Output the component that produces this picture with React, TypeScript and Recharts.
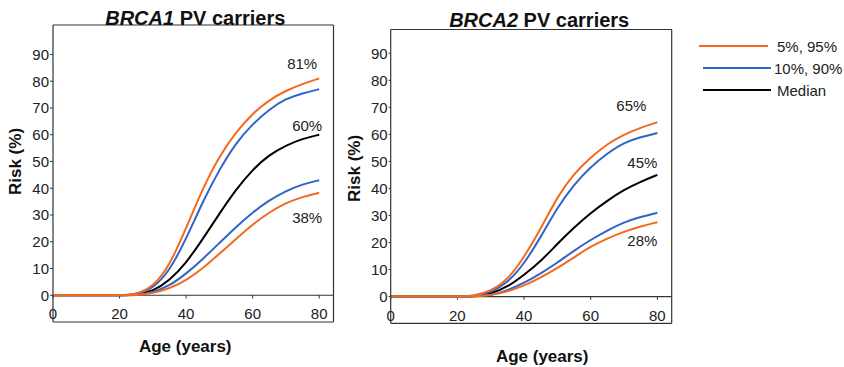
import React from 'react';
import { LineChart, Line, XAxis, YAxis, ReferenceLine, ReferenceDot, Legend } from 'recharts';

const AGES = [0, 5, 10, 15, 20, 25, 30, 35, 40, 45, 50, 55, 60, 65, 70, 75, 80];
const X_TICKS = [0, 20, 40, 60, 80];
const Y_TICKS = [0, 10, 20, 30, 40, 50, 60, 70, 80, 90];

// BRCA1 cumulative risk (%)
const B1_P95 = [0, 0, 0, 0, 0, 0.3, 3, 11, 25, 40, 52, 61, 68, 73, 76.5, 79, 81];
const B1_P90 = [0, 0, 0, 0, 0, 0.2, 2.5, 9, 21, 35, 47, 57, 64, 69.5, 73.5, 75.5, 77];
const B1_MED = [0, 0, 0, 0, 0, 0.1, 1.5, 5.5, 12, 21, 30.5, 39.5, 47, 52.5, 56, 58.5, 60];
const B1_P10 = [0, 0, 0, 0, 0, 0, 1, 3.5, 8, 13.5, 19.5, 25.5, 31, 35.5, 39, 41.5, 43];
const B1_P5 = [0, 0, 0, 0, 0, 0, 0.7, 2.5, 5.5, 10, 15.5, 21, 26.5, 31, 34.5, 36.8, 38.3];

// BRCA2 cumulative risk (%)
const B2_P95 = [0, 0, 0, 0, 0, 0.2, 2, 6, 14.5, 25, 37, 45.5, 51.5, 56.5, 60, 62.5, 64.5];
const B2_P90 = [0, 0, 0, 0, 0, 0.1, 1.5, 5, 12, 22, 33, 41.5, 48, 53, 57, 59, 60.5];
const B2_MED = [0, 0, 0, 0, 0, 0, 1, 3.5, 8, 13, 19.5, 25.5, 31, 35.5, 39.5, 42.5, 45];
const B2_P10 = [0, 0, 0, 0, 0, 0, 0.5, 2.2, 5, 8.5, 12.5, 17, 21, 24.5, 27.5, 29.5, 31];
const B2_P5 = [0, 0, 0, 0, 0, 0, 0.4, 1.8, 4, 7, 10.5, 14.5, 18.5, 21.5, 24, 26, 27.5];

const B1_LABELS = [
  { key: 'p95', text: '81%' },
  { key: 'med', text: '60%' },
  { key: 'p5', text: '38%' },
];
const B2_LABELS = [
  { key: 'p95', text: '65%' },
  { key: 'med', text: '45%' },
  { key: 'p5', text: '28%' },
];

const LEGEND_ITEMS = [
  { name: '5%, 95%', color: '#f26a1f' },
  { name: '10%, 90%', color: '#2f64c8' },
  { name: 'Median', color: '#000000' },
];

const ORANGE = '#f26a1f';
const BLUE = '#2f64c8';
const TEXT = '#222';
const AXIS = '#333';
const FONT = '"Liberation Sans", Arial, sans-serif';

function buildRows(p95: number[], p90: number[], med: number[], p10: number[], p5: number[]) {
  return AGES.map((age, i) => ({ age, p95: p95[i], p90: p90[i], med: med[i], p10: p10[i], p5: p5[i] }));
}

const rows1 = buildRows(B1_P95, B1_P90, B1_MED, B1_P10, B1_P5);
const rows2 = buildRows(B2_P95, B2_P90, B2_MED, B2_P10, B2_P5);

interface PanelProps {
  rows: ReturnType<typeof buildRows>;
  gene: string;
  labels: { key: string; text: string }[];
  labelOffsets: { dx: number; dy: number }[];
  yDomain: [number, number];
  yAxisWidth: number;
  topHeight: number;
  margin: { top: number; right: number; bottom: number; left: number };
  tickSize: number;
  xTickLift: number;
  xLabelDx: number;
  xLabelDy: number;
  yLabelX: number;
  yLabelDy: number;
  titleDx: number;
  titleY: number;
  withLegend?: boolean;
}

function renderLegend() {
  return (
    <svg width={160} height={70} style={{ overflow: 'visible' }}>
      {LEGEND_ITEMS.map((item, i) => (
        <g key={item.name}>
          <line x1={i === 0 ? 4 : 8} x2={i === 0 ? 73 : 76} y1={10 + i * 22} y2={10 + i * 22} stroke={item.color} strokeWidth={2} />
          <text x={i === 1 ? 79 : 82} y={10 + i * 22} dominantBaseline="central" fontSize={15} fill={TEXT} fontFamily={FONT}>
            {item.name}
          </text>
        </g>
      ))}
    </svg>
  );
}

function Panel(p: PanelProps) {
  const last = p.rows[p.rows.length - 1] as Record<string, number>;
  return (
    <LineChart width={340} height={367} data={p.rows} margin={p.margin} style={{ fontFamily: FONT }}>
      <XAxis
        xAxisId="top"
        orientation="top"
        dataKey="age"
        type="number"
        domain={[0, 84.3]}
        height={p.topHeight}
        tick={false}
        tickLine={false}
        axisLine={{ stroke: AXIS, strokeWidth: 1.2 }}
        label={{
          content: ({ viewBox }: any) => (
            <text
              x={viewBox.x + viewBox.width / 2 + p.titleDx}
              y={p.titleY}
              textAnchor="middle"
              dominantBaseline="central"
              fontSize={20}
              fontWeight="bold"
              fill="#111"
              fontFamily={FONT}
            >
              <tspan fontStyle="italic">{p.gene}</tspan> PV carriers
            </text>
          ),
        }}
      />
      <XAxis
        dataKey="age"
        type="number"
        domain={[0, 84.3]}
        ticks={X_TICKS}
        tickSize={0}
        tickMargin={0}
        tickLine={false}
        axisLine={{ stroke: AXIS, strokeWidth: 1.2 }}
        tick={(t: any) => (
          <text x={t.x} y={t.y - p.xTickLift} textAnchor="middle" fontSize={15} fill={TEXT} fontFamily={FONT}>
            {t.payload.value}
          </text>
        )}
        label={{
          content: ({ viewBox }: any) => (
            <text
              x={viewBox.x + viewBox.width / 2 + p.xLabelDx}
              y={viewBox.y + p.xLabelDy}
              textAnchor="middle"
              dominantBaseline="central"
              fontSize={17}
              fontWeight="bold"
              fill="#111"
              fontFamily={FONT}
            >
              Age (years)
            </text>
          ),
        }}
      />
      <YAxis
        type="number"
        domain={p.yDomain}
        ticks={Y_TICKS}
        width={p.yAxisWidth}
        tickSize={p.tickSize}
        tickMargin={1}
        interval={0}
        tick={{ fontSize: 15, fill: TEXT, fontFamily: FONT }}
        tickLine={{ stroke: AXIS }}
        axisLine={{ stroke: AXIS, strokeWidth: 1.2 }}
        label={{
          content: ({ viewBox }: any) => {
            const cy = viewBox.y + viewBox.height / 2 + p.yLabelDy;
            return (
              <text
                x={p.yLabelX}
                y={cy}
                transform={`rotate(-90 ${p.yLabelX} ${cy})`}
                textAnchor="middle"
                dominantBaseline="central"
                fontSize={17}
                fontWeight="bold"
                fill="#111"
                fontFamily={FONT}
              >
                Risk (%)
              </text>
            );
          },
        }}
      />
      <YAxis
        yAxisId="r"
        orientation="right"
        type="number"
        domain={p.yDomain}
        width={1}
        tick={false}
        tickLine={false}
        axisLine={{ stroke: AXIS, strokeWidth: 1.2 }}
      />
      <ReferenceLine y={0} stroke={AXIS} strokeWidth={1.2} />
      {X_TICKS.map((t) => (
        <ReferenceLine
          key={t}
          segment={[{ x: t, y: 0 }, { x: t, y: -1.2 }]}
          stroke={AXIS}
          strokeWidth={1}
        />
      ))}
      <Line dataKey="med" type="basis" stroke="#000" strokeWidth={2} dot={false} isAnimationActive={false} />
      <Line dataKey="p10" type="basis" stroke={BLUE} strokeWidth={2} dot={false} isAnimationActive={false} />
      <Line dataKey="p90" type="basis" stroke={BLUE} strokeWidth={2} dot={false} isAnimationActive={false} />
      <Line dataKey="p5" type="basis" stroke={ORANGE} strokeWidth={2} dot={false} isAnimationActive={false} />
      <Line dataKey="p95" type="basis" stroke={ORANGE} strokeWidth={2} dot={false} isAnimationActive={false} />
      {p.labels.map((l, i) => (
        <ReferenceDot
          key={l.key}
          x={last.age}
          y={last[l.key]}
          r={0}
          fill="none"
          stroke="none"
          label={{
            content: ({ viewBox }: any) => (
              <text
                x={viewBox.x + p.labelOffsets[i].dx}
                y={viewBox.y + p.labelOffsets[i].dy}
                textAnchor="middle"
                dominantBaseline="central"
                fontSize={15}
                fill={TEXT}
                fontFamily={FONT}
              >
                {l.text}
              </text>
            ),
          }}
        />
      ))}
      {p.withLegend && (
        <Legend
          layout="horizontal"
          verticalAlign="middle"
          align="center"
          content={renderLegend}
          wrapperStyle={{ left: 355, top: 36, width: 160, height: 70 }}
        />
      )}
    </LineChart>
  );
}

export default function App() {
  return (
    <div style={{ position: 'absolute', left: 0, top: 0, width: 844, height: 367, background: '#fff' }}>
      <div style={{ position: 'absolute', left: 0, top: 0 }}>
        <Panel
          rows={rows1}
          gene="BRCA1"
          labels={B1_LABELS}
          labelOffsets={[{ dx: -17, dy: -15 }, { dx: -12, dy: -9 }, { dx: -12, dy: 25 }]}
          yDomain={[-10, 101]}
          yAxisWidth={53}
          topHeight={25}
          margin={{ top: 0, right: 5.5, bottom: 15, left: 0 }}
          tickSize={3}
          xTickLift={3}
          xLabelDx={-8}
          xLabelDy={24}
          yLabelX={15}
          yLabelDy={-12}
          titleDx={2}
          titleY={18}
        />
      </div>
      <div style={{ position: 'absolute', left: 340, top: 0 }}>
        <Panel
          rows={rows2}
          gene="BRCA2"
          labels={B2_LABELS}
          labelOffsets={[{ dx: -26, dy: -17 }, { dx: -15, dy: -12 }, { dx: -15, dy: 18 }]}
          yDomain={[-9.9, 98.8]}
          yAxisWidth={50.7}
          topHeight={29.5}
          margin={{ top: 0, right: 7.3, bottom: 13.7, left: 0 }}
          tickSize={2}
          xTickLift={2}
          xLabelDx={11}
          xLabelDy={33}
          yLabelX={15}
          yLabelDy={-8}
          titleDx={8}
          titleY={19.5}
          withLegend
        />
      </div>
    </div>
  );
}
